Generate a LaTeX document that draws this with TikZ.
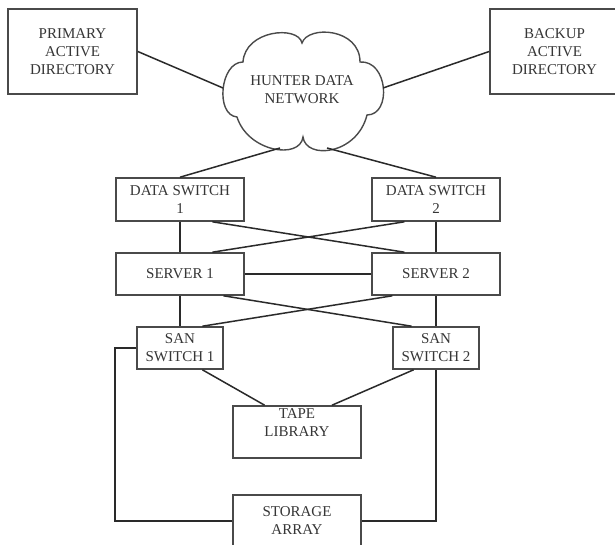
\documentclass[tikz,border=0pt]{standalone}
\usepackage{fontspec}
\setmainfont{Liberation Serif}
\usetikzlibrary{calc}
\definecolor{txt}{HTML}{363636}
\definecolor{edge}{HTML}{2A2A2A}
\definecolor{boxc}{HTML}{4A4A4A}
\tikzset{
  box/.style={draw=boxc, line width=1.6pt, fill=white, inner sep=0pt, align=center,
              text=txt, font=\fontsize{15}{18}\selectfont},
  lbl/.style={inner sep=0pt, align=center, text=txt, font=\fontsize{15}{18}\selectfont},
  link/.style={draw=edge, line width=1.5pt},
  cloudline/.style={draw=boxc, line width=1.4pt, fill=white}
}
\begin{document}
\begin{tikzpicture}[x=1pt, y=-1pt]
\clip (0,0) rectangle (615,545);
\fill[white] (0,0) rectangle (615,545);

% cloud outline
\path[cloudline] (302,43)
  .. controls (298,25) and (245,30) .. (243,62)
  .. controls (220,62) and (215,115) .. (237,117)
  .. controls (248,152) and (300,160) .. (303,137)
  .. controls (306,160) and (357,155) .. (367,115)
  .. controls (392,115) and (388,60) .. (360,62)
  .. controls (360,28) and (308,25) .. (302,43) -- cycle;
\node[lbl] (hdn) at (302,90) {HUNTER DATA\\NETWORK};
\coordinate (cL) at (223,88);
\coordinate (cR) at (383,88);
\coordinate (cBL) at (280,148);
\coordinate (cBR) at (327,148);

% boxes
\node[box, minimum width=129, minimum height=85] (pad) at (72.5,51.5) {PRIMARY\\ACTIVE\\DIRECTORY};
\node[box, minimum width=129, minimum height=85] (bad) at (554.5,51.5) {BACKUP\\ACTIVE\\DIRECTORY};
\node[box, minimum width=128, minimum height=43] (ds1) at (180,199.5) {DATA SWITCH\\1};
\node[box, minimum width=128, minimum height=43] (ds2) at (436,199.5) {DATA SWITCH\\2};
\node[box, minimum width=128, minimum height=42] (s1) at (180,274) {SERVER 1};
\node[box, minimum width=128, minimum height=42] (s2) at (436,274) {SERVER 2};
\node[box, minimum width=86, minimum height=42] (san1) at (180,348) {SAN\\SWITCH 1};
\node[box, minimum width=86, minimum height=42] (san2) at (436,348) {SAN\\SWITCH 2};
\node[box, minimum width=128, minimum height=52] (tape) at (297,432) {TAPE\\LIBRARY\\~};
\node[box, minimum width=128, minimum height=52] (stor) at (297,521) {STORAGE\\ARRAY};

% connectors
\draw[link] (pad.east) -- (cL);
\draw[link] (bad.west) -- (cR);
\draw[link] (cBL) -- (ds1.north);
\draw[link] (cBR) -- (ds2.north);

\draw[link] (ds1.south) -- (s1.north);
\draw[link] (ds2.south) -- (s2.north);
\draw[link] ($(ds1.south west)!0.75!(ds1.south east)$) -- ($(s2.north west)!0.256!(s2.north east)$);
\draw[link] ($(s1.north west)!0.75!(s1.north east)$) -- ($(ds2.south west)!0.256!(ds2.south east)$);
\draw[link] (s1.east) -- (s2.west);

\draw[link] (s1.south) -- (san1.north);
\draw[link] (s2.south) -- (san2.north);
\draw[link] ($(s1.south west)!0.836!(s1.south east)$) -- ($(san2.north west)!0.22!(san2.north east)$);
\draw[link] ($(s2.south west)!0.163!(s2.south east)$) -- ($(san1.north west)!0.756!(san1.north east)$);

\draw[link] ($(san1.south west)!0.756!(san1.south east)$) -- ($(tape.north west)!0.25!(tape.north east)$);
\draw[link] ($(san2.south west)!0.244!(san2.south east)$) -- ($(tape.north west)!0.77!(tape.north east)$);

\draw[link] (san1.west) -- ++(-21,0) |- (stor.west);
\draw[link] (san2.south) |- (stor.east);
\end{tikzpicture}
\end{document}
